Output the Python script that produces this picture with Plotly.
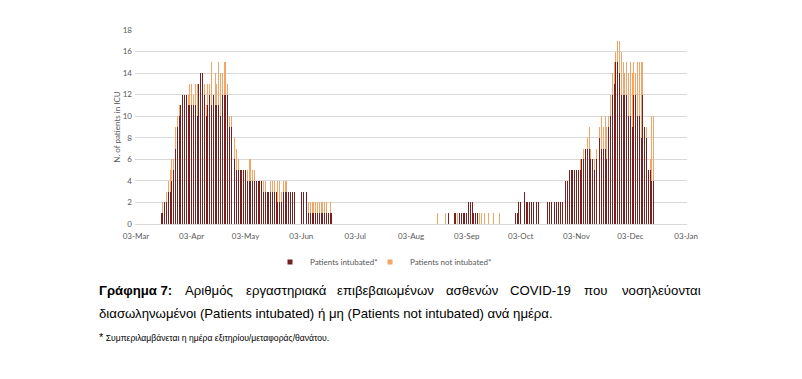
import pandas as pd
import plotly.graph_objects as go

# ---------------- data ----------------
wave1_start = "2020-03-17"
wave1_intubated = [
    1, 1, 2, 2, 3, 3, 4, 5, 7, 9,
    10, 11, 12, 12, 12, 11, 11, 11, 11, 11,
    10, 13, 14, 14, 12, 10, 11, 12, 11, 12,
    11, 11, 11, 10, 12, 12, 12, 12, 9, 9,
    8, 6, 5, 5, 5, 5, 5, 5, 4, 4,
    4, 4, 4, 4, 4, 4, 4, 3, 3, 3,
    3, 3, 3, 3, 3, 2, 2, 2, 3, 3,
    3, 3, 3, 3, 3, 0, 0, 0, 3, 3,
    0, 3, 1, 1, 1, 1, 1, 1, 1, 1,
    1, 1, 1, 1, 1, 1,
]
wave1_not_intubated = [
    0, 1, 0, 1, 1, 2, 2, 1, 2, 1,
    1, 0, 0, 0, 0, 1, 2, 2, 1, 2,
    3, 0, 0, 0, 1, 1, 2, 1, 4, 0,
    3, 2, 4, 4, 2, 3, 3, 1, 1, 1,
    1, 2, 2, 1, 0, 0, 0, 0, 1, 2,
    2, 1, 1, 0, 0, 0, 0, 1, 1, 0,
    0, 1, 1, 1, 0, 2, 2, 1, 1, 1,
    1, 0, 0, 0, 0, 0, 0, 0, 0, 0,
    0, 0, 1, 1, 1, 1, 1, 1, 1, 1,
    1, 1, 1, 0, 1, 0,
]
wave2_start = "2020-08-18"
wave2_intubated = [
    0, 0, 0, 0, 0, 0, 1, 0, 0, 1,
    1, 0, 1, 1, 1, 1, 1, 2, 2, 2,
    1, 1, 1, 0, 0, 0, 0, 0, 0, 0,
    0, 0, 0, 0, 0, 0, 0, 0, 0, 0,
    0, 0, 0, 1, 1, 2, 2, 0, 3, 2,
    2, 2, 2, 2, 0, 2, 2, 0, 0, 0,
    0, 2, 2, 2, 0, 2, 2, 2, 2, 2,
    0, 4, 4, 5, 5, 5, 5, 5, 5, 5,
    6, 6, 7, 7, 7, 6, 6, 5, 6, 7,
    8, 7, 7, 7, 6, 9, 10, 12, 13, 15,
    15, 14, 12, 12, 12, 12, 10, 10, 9, 12,
    12, 10, 10, 8, 12, 9, 8, 5, 5, 4,
    4,
]
wave2_not_intubated = [
    1, 0, 0, 0, 1, 0, 0, 0, 0, 0,
    0, 1, 0, 0, 0, 0, 0, 0, 0, 0,
    0, 0, 0, 1, 1, 0, 1, 0, 1, 0,
    0, 1, 0, 0, 1, 0, 0, 0, 0, 0,
    0, 0, 0, 0, 0, 0, 0, 0, 0, 0,
    0, 0, 0, 0, 0, 0, 0, 0, 0, 0,
    0, 0, 0, 0, 0, 0, 0, 0, 0, 0,
    0, 0, 0, 0, 0, 0, 0, 0, 0, 1,
    0, 1, 0, 1, 2, 1, 0, 1, 1, 3,
    1, 3, 2, 3, 3, 1, 2, 2, 2, 1,
    2, 3, 4, 3, 2, 3, 4, 5, 5, 3,
    2, 5, 5, 7, 3, 0, 1, 0, 1, 6,
    6,
]
tick_dates = ["2020-03-03", "2020-04-03", "2020-05-03", "2020-06-03", "2020-07-03",
              "2020-08-03", "2020-09-03", "2020-10-03", "2020-11-03", "2020-12-03",
              "2021-01-03"]
tick_labels = ["03-Mar", "03-Apr", "03-May", "03-Jun", "03-Jul", "03-Aug",
               "03-Sep", "03-Oct", "03-Nov", "03-Dec", "03-Jan"]
series_names = ["Patients intubated*", "Patients not intubated*"]
y_ticks = [0, 2, 4, 6, 8, 10, 12, 14, 16, 18]

# ---------------- build ----------------
dates = list(pd.date_range(wave1_start, periods=len(wave1_intubated), freq="D")) + \
        list(pd.date_range(wave2_start, periods=len(wave2_intubated), freq="D"))
intubated = wave1_intubated + wave2_intubated
not_intubated = wave1_not_intubated + wave2_not_intubated

C_INT = "#74201F"
C_NOT = "#F3A466"
C_INT_BAR = "rgba(116,32,31,0.995)"
C_NOT_BAR = "rgba(243,164,102,0.995)"
GRID = "#D9D9D9"
TICK = "#595959"
FONT = "Lato"

SW, SH = 802, 379          # window size
OFF = 8                    # page body margin
L, R, T, B = 135, 687, 30, 224   # plot area in window pixels


def fx(px):
    return (px - L) / (R - L)


def fy(py):
    return (B - py) / (B - T)


bar_w = 0.55 * 86400000

fig = go.Figure()
fig.add_trace(go.Bar(x=dates, y=intubated, name=series_names[0], marker_color=C_INT_BAR,
                     marker_line_width=0, width=bar_w, showlegend=False))
fig.add_trace(go.Bar(x=dates, y=not_intubated, name=series_names[1], marker_color=C_NOT_BAR,
                     marker_line_width=0, width=bar_w, showlegend=False))
# legend keys (small squares like the original), one legend box per entry
fig.add_trace(go.Scatter(x=[None], y=[None], mode="markers", name=series_names[0],
                         marker=dict(symbol="square", size=5, color=C_INT), legend="legend"))
fig.add_trace(go.Scatter(x=[None], y=[None], mode="markers", name=series_names[1],
                         marker=dict(symbol="square", size=5, color=C_NOT), legend="legend2"))

leg_common = dict(orientation="h", y=fy(262), yanchor="middle", xanchor="left",
                  font=dict(family=FONT, size=8, color=TICK), itemwidth=30,
                  bgcolor="rgba(0,0,0,0)")
fig.update_layout(
    width=SW - OFF, height=SH - OFF,
    margin=dict(l=L - OFF, r=SW - R, t=T - OFF, b=SH - B, autoexpand=False),
    paper_bgcolor="white", plot_bgcolor="white",
    barmode="stack",
    font=dict(family=FONT, size=8, color=TICK),
    legend=dict(x=fx(270), **leg_common),
    legend2=dict(x=fx(370), **leg_common),
)
fig.update_xaxes(
    type="date", range=["2020-03-02 12:00", "2021-01-03 12:00"],
    tickvals=tick_dates, ticktext=tick_labels, tickfont=dict(family=FONT, size=8, color=TICK),
    showgrid=False, showline=True, linecolor=GRID, linewidth=1, ticks="", ticklen=0,
    ticklabelstandoff=4, zeroline=False,
)
fig.update_yaxes(
    range=[0, 18], tickvals=y_ticks, tickfont=dict(family=FONT, size=8, color=TICK),
    showgrid=True, gridcolor=GRID, gridwidth=1, zeroline=False, showline=False, ticks="",
    ticklabelstandoff=2,
    title=dict(text="N. of patients in ICU", font=dict(family=FONT, size=8, color=TICK), standoff=0),
)

# caption (justified first line emulated word by word)
CAP = "Liberation Sans"
cap_size = 13.2
line1 = [("<b>Γράφημα 7:</b>", 97, "left"), ("Αριθμός", 183, "left"), ("εργαστηριακά", 244, "left"),
         ("επιβεβαιωμένων", 335, "left"), ("ασθενών", 444, "left"), ("COVID-19", 508, "left"),
         ("που", 582, "left"), ("νοσηλεύονται", 703, "right")]
for txt, px, anc in line1:
    fig.add_annotation(text=txt, x=fx(px), y=fy(290), xref="paper", yref="paper",
                       xanchor=anc, yanchor="middle", showarrow=False,
                       font=dict(family=CAP, size=cap_size, color="black"))
fig.add_annotation(text="διασωληνωμένοι (Patients intubated) ή μη (Patients not intubated) ανά ημέρα.",
                   x=fx(97), y=fy(313), xref="paper", yref="paper", xanchor="left", yanchor="middle",
                   showarrow=False, font=dict(family=CAP, size=cap_size, color="black"))
fig.add_annotation(text="<span style='font-size:11px'>*</span> Συμπεριλαμβάνεται η ημέρα εξιτηρίου/μεταφοράς/θανάτου.",
                   x=fx(97), y=fy(337), xref="paper", yref="paper", xanchor="left", yanchor="middle",
                   showarrow=False, font=dict(family=CAP, size=8.6, color="black"))

# right page edge
fig.add_shape(type="line", xref="paper", yref="paper", x0=fx(797), x1=fx(797),
              y0=fy(0), y1=fy(379), line=dict(color="#D0D0D0", width=1))

fig.write_html("out.html")
